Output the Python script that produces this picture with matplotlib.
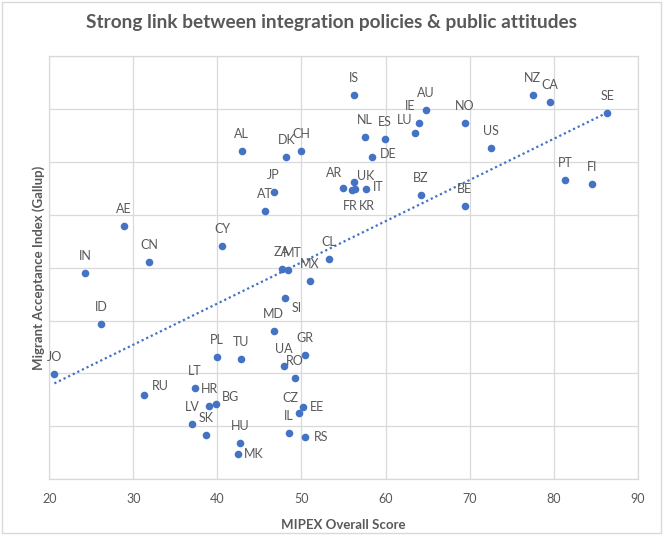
"""
MIPEX score vs Gallup Migrant Acceptance Index
Scatter with country codes and a linear trend line
"""
import numpy as np
import matplotlib.pyplot as plt
from matplotlib.patches import Rectangle

plt.rcParams['font.family'] = ['Lato', 'DejaVu Sans']

# Data
countries = ['IS', 'AU', 'IE', 'LU', 'NO', 'NZ', 'CA', 'SE', 'US', 'NL',
             'ES', 'DE', 'CH', 'DK', 'AL', 'AR', 'UK', 'FR', 'KR', 'IT',
             'BZ', 'BE', 'PT', 'FI', 'JP', 'AT', 'AE', 'CN', 'IN', 'ID',
             'JO', 'CY', 'ZA', 'MT', 'SI', 'MD', 'CL', 'MX', 'PL', 'TU',
             'UA', 'RO', 'GR', 'LT', 'RU', 'HR', 'BG', 'LV', 'SK', 'HU',
             'MK', 'CZ', 'EE', 'IL', 'RS']
mipex = [56.2, 64.8, 64.0, 63.5, 69.4, 77.5, 79.6, 86.4, 72.5, 57.5,
         59.9, 58.4, 50.0, 48.2, 42.9, 54.9, 56.2, 56.0, 56.4, 57.7,
         64.2, 69.4, 81.4, 84.6, 46.7, 45.7, 28.9, 31.9, 24.3, 26.2,
         20.6, 40.6, 47.7, 48.4, 48.0, 46.7, 53.3, 51.0, 39.9, 42.8,
         47.9, 49.2, 50.4, 37.3, 31.3, 39.0, 39.8, 37.0, 38.7, 42.7,
         42.4, 49.7, 50.2, 48.5, 50.4]
gallup = [8.26, 7.98, 7.74, 7.55, 7.74, 8.26, 8.14, 7.92, 7.27, 7.46,
          7.44, 7.09, 7.20, 7.09, 7.21, 6.51, 6.61, 6.46, 6.48, 6.49,
          6.38, 6.17, 6.65, 6.58, 6.43, 6.07, 5.79, 5.11, 4.90, 3.93,
          2.99, 5.41, 4.98, 4.95, 4.42, 3.80, 5.16, 4.75, 3.31, 3.27,
          3.15, 2.92, 3.34, 2.72, 2.60, 2.39, 2.42, 2.04, 1.84, 1.69,
          1.47, 2.25, 2.37, 1.87, 1.80]

# trend line as shown on the chart (Excel linear trendline)
trend_slope = 0.0778
trend_intercept = 1.21

x_ticks = [20, 30, 40, 50, 60, 70, 80, 90]
y_grid = [1, 2, 3, 4, 5, 6, 7, 8, 9]

# label placement (pixel offsets), default is above the point
label_offset = {
    'IE': (-9, 17), 'LU': (-10, 13), 'DE': (16, 3), 'AR': (-9, 15),
    'UK': (12, 6), 'IT': (12, 2), 'FR': (-2, -16), 'KR': (12, -17),
    'MT': (4, 17), 'SI': (12, -10), 'RU': (16, 9), 'BG': (15, 7),
    'MK': (16, 0), 'CZ': (-9, 15), 'EE': (14, 0), 'RS': (16, 0),
}

blue = '#4472C4'
text_grey = '#595959'

fig = plt.figure(figsize=(6.63, 5.36), dpi=100)
fig.patches.append(Rectangle((0.003, 0.006), 0.994, 0.99, transform=fig.transFigure,
                             fill=False, edgecolor='#D9D9D9', linewidth=1))
ax = fig.add_axes([0.0744, 0.1058, 0.8874, 0.7897])

ax.scatter(mipex, gallup, s=30, color=blue, zorder=3, linewidths=0)

# trend line over the data range
xt = np.array([min(mipex), max(mipex)])
ax.plot(xt, trend_intercept + trend_slope * xt, linestyle=(0, (1, 1.3)),
        color=blue, linewidth=1.6, zorder=2)

for c, x, y in zip(countries, mipex, gallup):
    dx, dy = label_offset.get(c, (0, 17))
    ax.annotate(c, (x, y), xytext=(dx, dy), textcoords='offset pixels',
                ha='center', va='center', fontsize=9, color=text_grey, zorder=4)

ax.set_xlim(20, 90)
ax.set_ylim(1, 9)
ax.set_xticks(x_ticks)
ax.set_yticks(y_grid)
ax.set_yticklabels([])
ax.tick_params(length=0, labelsize=9, labelcolor=text_grey, pad=10)
ax.grid(True, color='#D9D9D9', linewidth=0.9)
ax.set_axisbelow(True)
for s in ax.spines.values():
    s.set_color('#D9D9D9')
    s.set_linewidth(0.9)

ax.set_xlabel('MIPEX Overall Score', fontsize=9.5, fontweight='bold', color=text_grey, labelpad=10)
ax.set_ylabel('Migrant Acceptance Index (Gallup)', fontsize=9.5, fontweight='bold', color=text_grey)
ax.yaxis.set_label_coords(-0.008, 0.5)
fig.text(0.5, 0.958, 'Strong link between integration policies & public attitudes',
         ha='center', va='center', fontsize=13.7, fontweight='bold', color=text_grey)

plt.savefig('out.png', dpi=100)
